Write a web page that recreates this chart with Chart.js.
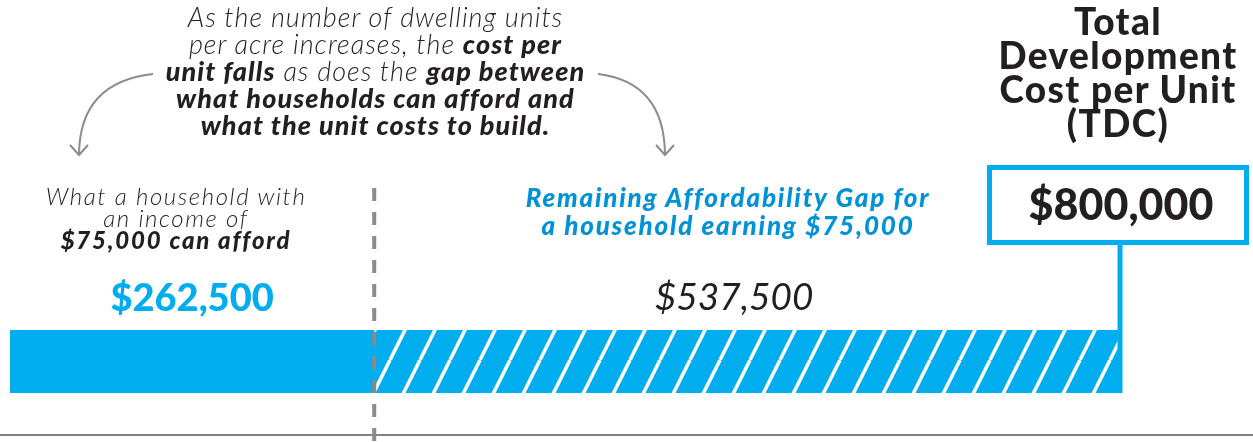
<!DOCTYPE html>
<html>
<head>
<meta charset="utf-8">
<script src="https://cdn.jsdelivr.net/npm/chart.js@4.4.1/dist/chart.umd.min.js"></script>
<style>
  html, body { margin: 0; padding: 0; background: #fff; }
  #wrap { position: relative; width: 1253px; height: 442px; overflow: hidden; font-family: 'Lato', 'Noto Sans', sans-serif; color: #231f20; }
  #chart { position: absolute; left: 0; top: 0; }
  .note { position: absolute; text-align: center; white-space: nowrap; }
  #intro { left: 0; width: 751px; top: 3px; font-size: 27px; line-height: 27px; font-style: italic; font-weight: 300; letter-spacing: 1px; }
  #intro b { font-weight: 900; letter-spacing: 1.1px; }
  #afford { left: 0; width: 352px; top: 185px; font-size: 24px; line-height: 22px; font-style: italic; font-weight: 300; letter-spacing: 1.6px; }
  #afford b { font-weight: 900; letter-spacing: 1.8px; }
  #gapnote { left: 478px; width: 500px; top: 183px; font-size: 26px; line-height: 28px; font-style: italic; font-weight: 900; color: #0092d6; letter-spacing: 1.8px; }
  #tdc { left: 991px; width: 254px; top: 4px; font-size: 37px; line-height: 34px; font-weight: 900; letter-spacing: 1.4px; }
</style>
</head>
<body>
<div id="wrap">
  <canvas id="chart" width="1253" height="442"></canvas>
  <div class="note" id="intro">As the number of dwelling units<br>per acre increases, the <b>cost per</b><br><b>unit falls</b> as does the <b>gap between</b><br><b>what households can afford and</b><br><b>what the unit costs to build.</b></div>
  <div class="note" id="afford">What a household with<br>an income of<br><b>$75,000 can afford</b></div>
  <div class="note" id="gapnote">Remaining Affordability Gap for<br>a household earning $75,000</div>
  <div class="note" id="tdc">Total<br>Development<br>Cost per Unit<br>(TDC)</div>
</div>
<script>
// values
const categories = ['Cost per unit'];
const affordable = [262500];
const gap = [537500];
const axisMax = 800000;

const blue = '#00aeef';

function money(v) {
    return '$' + v.toLocaleString('en-US');
}

// blue fill with white diagonal stripes
function makeHatch() {
    const c = document.createElement('canvas');
    c.width = 30;
    c.height = 60;
    const g = c.getContext('2d');
    g.fillStyle = blue;
    g.fillRect(0, 0, 30, 60);
    g.strokeStyle = '#fff';
    g.lineWidth = 3.6;
    for (let o = -30; o <= 30; o += 30) {
        g.beginPath();
        g.moveTo(o, 60);
        g.lineTo(o + 30, 0);
        g.stroke();
    }
    return g.createPattern(c, 'repeat');
}

const hatch = makeHatch();

const extras = {
    id: 'extras',
    afterDatasetsDraw(chart) {
        const ctx = chart.ctx;
        const x = chart.scales.x;
        const area = chart.chartArea;
        const split = x.getPixelForValue(affordable[0]);
        const total = affordable[0] + gap[0];
        const end = x.getPixelForValue(total);
        ctx.save();

        // bottom rule
        ctx.strokeStyle = '#808080';
        ctx.lineWidth = 2;
        ctx.beginPath();
        ctx.moveTo(0, 435);
        ctx.lineTo(chart.width, 435);
        ctx.stroke();

        // dashed divider
        ctx.strokeStyle = '#8a8a8a';
        ctx.lineWidth = 4;
        ctx.setLineDash([13, 11]);
        ctx.beginPath();
        ctx.moveTo(split, 188);
        ctx.lineTo(split, chart.height);
        ctx.stroke();
        ctx.setLineDash([]);

        // connector from bar end to TDC box
        ctx.strokeStyle = blue;
        ctx.lineWidth = 5;
        ctx.beginPath();
        ctx.moveTo(end, area.bottom);
        ctx.lineTo(end, 244);
        ctx.stroke();

        // TDC box
        ctx.fillStyle = '#fff';
        ctx.fillRect(990, 168, 256, 74);
        ctx.strokeRect(989.5, 167.5, 257, 75);

        ctx.textAlign = 'center';
        ctx.textBaseline = 'middle';
        ctx.fillStyle = '#231f20';
        ctx.font = '900 43px Lato';
        ctx.fillText(money(total), end + 1, 206);

        // segment values
        ctx.fillStyle = blue;
        ctx.font = '900 38px Lato';
        ctx.fillText(money(affordable[0]), (x.getPixelForValue(0) + split) / 2, 299);
        ctx.fillStyle = '#231f20';
        ctx.font = 'italic 400 37px Lato';
        ctx.fillText(money(gap[0]), (split + end) / 2 - 13, 298);

        // curved arrows
        ctx.strokeStyle = '#8c8c8c';
        ctx.lineWidth = 2;
        ctx.beginPath();
        ctx.moveTo(153, 74);
        ctx.quadraticCurveTo(80, 82, 79, 154);
        ctx.moveTo(70, 145);
        ctx.lineTo(79, 155);
        ctx.lineTo(88, 145);
        ctx.moveTo(598, 74);
        ctx.quadraticCurveTo(664, 82, 665, 154);
        ctx.moveTo(656, 145);
        ctx.lineTo(665, 155);
        ctx.lineTo(674, 145);
        ctx.stroke();

        ctx.restore();
    }
};

new Chart(document.getElementById('chart'), {
    type: 'bar',
    data: {
        labels: categories,
        datasets: [
            {
                label: 'What a household with an income of $75,000 can afford',
                data: affordable,
                backgroundColor: blue,
                borderWidth: 0
            },
            {
                label: 'Remaining Affordability Gap for a household earning $75,000',
                data: gap,
                backgroundColor: hatch,
                borderWidth: 0
            }
        ]
    },
    options: {
        indexAxis: 'y',
        responsive: false,
        animation: false,
        devicePixelRatio: 1,
        layout: { padding: { left: 10, right: 133, top: 330, bottom: 49 } },
        datasets: { bar: { barPercentage: 1, categoryPercentage: 1 } },
        scales: {
            x: { stacked: true, min: 0, max: axisMax, display: false },
            y: { stacked: true, display: false }
        },
        plugins: {
            legend: { display: false },
            tooltip: { enabled: false }
        }
    },
    plugins: [extras]
});
</script>
</body>
</html>
